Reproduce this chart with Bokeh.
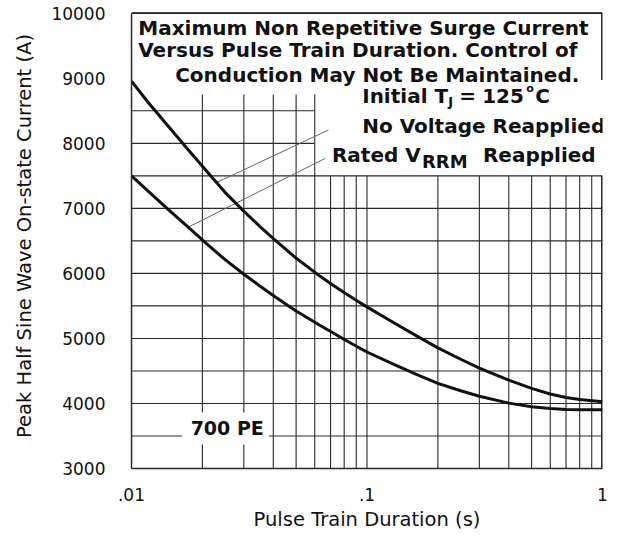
from bokeh.plotting import figure
from bokeh.models import Range1d, FixedTicker, Label
from bokeh.embed import file_html
from bokeh.resources import INLINE

# ---------------- data ----------------
# No Voltage Reapplied (upper curve)
dur_no_volt = [0.01, 0.0118, 0.0143, 0.0174, 0.021, 0.0249, 0.0298, 0.0355, 0.0405,
               0.0496, 0.0633, 0.071, 0.0808, 0.0906, 0.1015, 0.13, 0.163, 0.2,
               0.25, 0.3, 0.4, 0.5, 0.6, 0.7, 0.8, 1.0]
cur_no_volt = [8955, 8624, 8265, 7900, 7560, 7250, 6965, 6705, 6520,
               6245, 5955, 5830, 5695, 5580, 5470, 5240, 5035, 4855,
               4680, 4545, 4360, 4232, 4145, 4092, 4062, 4025]

# Rated VRRM Reapplied (lower curve)
dur_rated = [0.01, 0.0118, 0.0143, 0.0174, 0.021, 0.0249, 0.0298, 0.0352, 0.0404,
             0.0496, 0.0633, 0.071, 0.0808, 0.0906, 0.1015, 0.13, 0.163, 0.2,
             0.25, 0.3, 0.4, 0.5, 0.6, 0.7, 0.8, 1.0]
cur_rated = [7498, 7260, 6985, 6710, 6445, 6215, 5995, 5802, 5650,
             5430, 5200, 5095, 4975, 4875, 4780, 4600, 4445, 4310,
             4195, 4110, 4005, 3950, 3922, 3908, 3903, 3903]

# leader lines from the curves to their captions: [start, end]
leader_no_volt_x = [0.0230, 0.0686]
leader_no_volt_y = [7397, 8205]
leader_rated_x = [0.01741, 0.0665]
leader_rated_y = [6710, 7769]

# axes
x_ticks = [0.01, 0.1, 1]
x_tick_labels = [".01", ".1", "1"]
y_ticks = [3000, 4000, 5000, 6000, 7000, 8000, 9000, 10000]

# chart grid (datasheet-style, partly hidden behind the caption block)
grid_x_tall = [0.02, 0.03, 0.04, 0.05, 0.06]            # up to 8750
grid_x_short = [0.07, 0.08, 0.09, 0.1, 0.2, 0.3, 0.4, 0.5, 0.6, 0.7, 0.8, 0.9]  # up to 7500
grid_y_full = [4000, 4500, 5000, 5500, 6000, 6500, 7000, 7500]
grid_y_left = [8000, 8500]                                # only up to x = 0.06
grid_y_split = 3500                                       # broken by the "700 PE" tag

X0, X1 = 0.01, 1.0
Y0, Y1 = 3000, 10000
Y_VIEW_TOP = 10150   # headroom above the box so its top edge is drawn inside the frame

# ---------------- figure ----------------
p = figure(width=620, height=535, x_axis_type="log",
           x_range=Range1d(X0, X1), y_range=Range1d(Y0, Y_VIEW_TOP),
           output_backend="svg", toolbar_location=None,
           min_border_left=131, min_border_right=18,
           min_border_top=3, min_border_bottom=67)
p.title.visible = False
p.xgrid.visible = False
p.ygrid.visible = False
p.outline_line_color = None
p.background_fill_color = "white"
p.border_fill_color = "white"

GRID = "#2a2a2a"
INK = "#111111"

# vertical grid lines
vx = grid_x_tall + grid_x_short
vy1 = [8750] * len(grid_x_tall) + [7500] * len(grid_x_short)
p.segment(x0=vx, y0=[Y0] * len(vx), x1=vx, y1=vy1, line_color=GRID, line_width=1.1)

# horizontal grid lines
hx0 = [X0] * (len(grid_y_full) + len(grid_y_left)) + [X0, 0.0370]
hx1 = [X1] * len(grid_y_full) + [0.06] * len(grid_y_left) + [0.01637, X1]
hy = grid_y_full + grid_y_left + [grid_y_split, grid_y_split]
p.segment(x0=hx0, y0=hy, x1=hx1, y1=hy, line_color=GRID, line_width=1.1)

# box: top edge (stroke plus a thin filled band) and right edge (interrupted)
p.line(x=[X0, X1], y=[Y1, Y1], line_color=GRID, line_width=1.6)
p.quad(left=[X0], right=[X1], bottom=[Y1 - 10], top=[Y1 + 14],
       fill_color=GRID, line_color=None)
p.segment(x0=[X1, X1], y0=[Y1, 7500], x1=[X1, X1], y1=[8975, Y0],
          line_color=GRID, line_width=3)

# leader lines
p.line(leader_no_volt_x, leader_no_volt_y, line_color="#666666", line_width=1)
p.line(leader_rated_x, leader_rated_y, line_color="#666666", line_width=1)

# curves
p.line(dur_no_volt, cur_no_volt, line_color=INK, line_width=3)
p.line(dur_rated, cur_rated, line_color=INK, line_width=3)

# ---------------- axes ----------------
xa = p.xaxis[0]
ya = p.yaxis[0]
xa.ticker = FixedTicker(ticks=x_ticks)
xa.major_label_overrides = {t: s for t, s in zip(x_ticks, x_tick_labels)}
ya.ticker = FixedTicker(ticks=y_ticks)
for ax in (xa, ya):
    ax.major_tick_line_color = None
    ax.minor_tick_line_color = None
    ax.axis_line_color = GRID
    ax.axis_line_width = 1.5
    ax.major_label_text_font = "DejaVu Sans"
    ax.major_label_text_font_size = "17px"
    ax.major_label_text_color = INK
    ax.axis_label_text_font = "DejaVu Sans"
    ax.axis_label_text_font_style = "normal"
    ax.axis_label_text_font_size = "19.5px"
    ax.axis_label_text_color = INK
ya.bounds = (Y0, Y1)
xa.major_label_standoff = 13
ya.major_label_standoff = 20
xa.axis_label = "Pulse Train Duration (s)"
ya.axis_label = "Peak Half Sine Wave On-state Current (A)"
xa.axis_label_standoff = 4
ya.axis_label_standoff = 12

BASE_DY = 7  # lift the captions onto their baselines


def caption(x, y, text, size="20px", dx=0, dy=0, **kw):
    p.add_layout(Label(x=x, y=y, text=text, x_offset=dx, y_offset=dy + BASE_DY,
                       text_align="left", text_baseline="alphabetic",
                       text_font="DejaVu Sans", text_font_style="bold",
                       text_font_size=size, text_color=INK,
                       background_fill_color=None, border_line_color=None, **kw))


# title block
caption(0.01068, 9666, "Maximum Non Repetitive Surge Current")
caption(0.01068, 9328, "Versus Pulse Train Duration. Control of")
caption(0.01533, 8943, "Conduction May Not Be Maintained.")

# Initial TJ = 125 oC
caption(0.0954, 8620, "Initial T")
caption(0.0954, 8620, "J", size="13px", dx=86, dy=-5)
caption(0.0954, 8620, "=", dx=97)
caption(0.0954, 8620, "125", dx=120)
caption(0.0954, 8620, "o", size="11px", dx=164, dy=8)
caption(0.0954, 8620, "C", dx=173)

caption(0.0954, 8158, "No Voltage Reapplied")

# Rated VRRM Reapplied
caption(0.0710, 7712, "Rated V")
caption(0.0710, 7712, "RRM", size="18px", dx=90, dy=-6)
caption(0.0710, 7712, "Reapplied", dx=151)

# device tag
p.add_layout(Label(x=0.0255, y=3540, y_offset=5, text="700 PE", text_align="center",
                   text_baseline="middle", text_font="DejaVu Sans",
                   text_font_style="bold", text_font_size="19px", text_color=INK,
                   background_fill_color="white", padding=5))

open("out.html", "w").write(file_html(p, INLINE))
